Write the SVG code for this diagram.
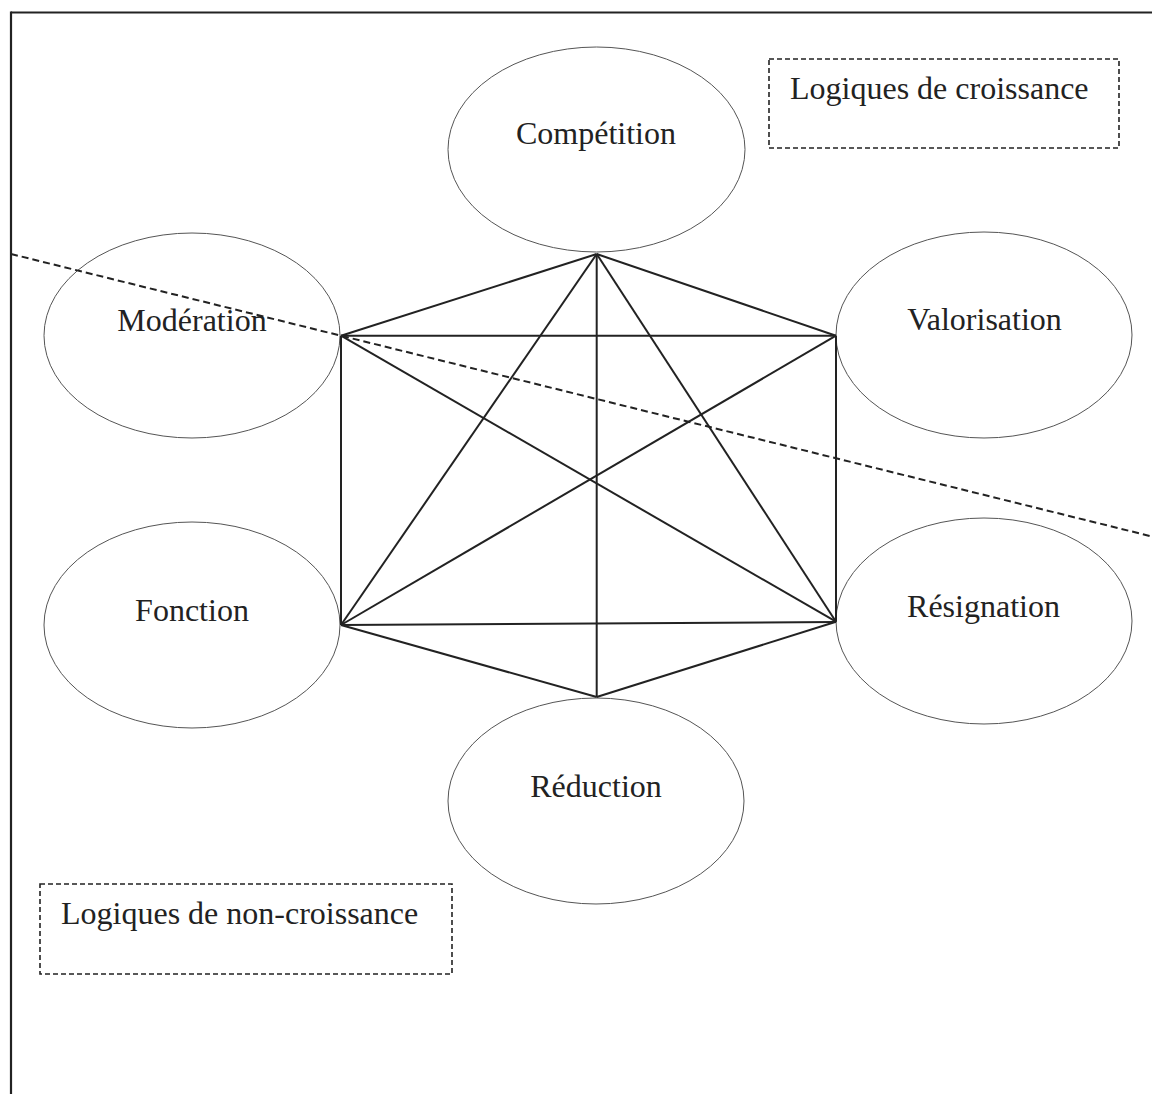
<svg xmlns="http://www.w3.org/2000/svg" width="1152" height="1094" viewBox="0 0 1152 1094">
<style>
.node ellipse{fill:#fff;stroke:#555;stroke-width:1}
.lbl{font-family:"Liberation Serif","Times New Roman",serif;font-size:32px;fill:#222}
.mid{text-anchor:middle}
.edge{stroke:#222;stroke-width:2;fill:none}
.box{fill:none;stroke:#222;stroke-width:1.6;stroke-dasharray:5 3}
.divider{stroke:#222;stroke-width:2;stroke-dasharray:7 4;fill:none}
</style>
<rect width="1152" height="1094" fill="#fff"/>
<g id="frame">
<line x1="11" y1="12.5" x2="1152" y2="12.5" stroke="#222" stroke-width="2.2"/>
<line x1="11" y1="11.5" x2="11" y2="1094" stroke="#222" stroke-width="2.2"/>
</g>
<g id="node-competition" class="node">
<ellipse cx="596.5" cy="149.5" rx="148.5" ry="102.5"/>
<text class="lbl mid" x="596" y="144">Compétition</text>
</g>
<g id="node-moderation" class="node">
<ellipse cx="192" cy="335.5" rx="148" ry="102.5"/>
<text class="lbl mid" x="192" y="331">Modération</text>
</g>
<g id="node-valorisation" class="node">
<ellipse cx="984" cy="335" rx="148" ry="103"/>
<text class="lbl mid" x="984.5" y="330">Valorisation</text>
</g>
<g id="node-fonction" class="node">
<ellipse cx="192" cy="625" rx="148" ry="103"/>
<text class="lbl mid" x="192" y="621">Fonction</text>
</g>
<g id="node-resignation" class="node">
<ellipse cx="984" cy="621" rx="148" ry="103"/>
<text class="lbl mid" x="983.5" y="617">Résignation</text>
</g>
<g id="node-reduction" class="node">
<ellipse cx="596" cy="801" rx="148" ry="103"/>
<text class="lbl mid" x="596" y="797">Réduction</text>
</g>
<g id="connectors" class="edge">
<line x1="596.7" y1="254" x2="341" y2="335.7"/>
<line x1="596.7" y1="254" x2="836" y2="335.7"/>
<line x1="596.7" y1="254" x2="341" y2="625"/>
<line x1="596.7" y1="254" x2="836" y2="621.7"/>
<line x1="596.7" y1="254" x2="596.7" y2="697"/>
<line x1="341" y1="335.7" x2="836" y2="335.7"/>
<line x1="341" y1="335.7" x2="341" y2="625"/>
<line x1="341" y1="335.7" x2="836" y2="621.7"/>
<line x1="836" y1="335.7" x2="341" y2="625"/>
<line x1="836" y1="335.7" x2="836" y2="621.7"/>
<line x1="341" y1="625" x2="836" y2="622"/>
<line x1="341" y1="625" x2="596.7" y2="697"/>
<line x1="836" y1="621.7" x2="596.7" y2="697"/>
</g>
<g id="divider">
<line class="divider" x1="11" y1="254" x2="1152" y2="536.5"/>
</g>
<g id="legend-croissance">
<rect class="box" x="769" y="59" width="350" height="89"/>
<text class="lbl" x="790" y="99">Logiques de croissance</text>
</g>
<g id="legend-non-croissance">
<rect class="box" x="40" y="884" width="412" height="90"/>
<text class="lbl" x="61" y="924">Logiques de non-croissance</text>
</g>
</svg>
